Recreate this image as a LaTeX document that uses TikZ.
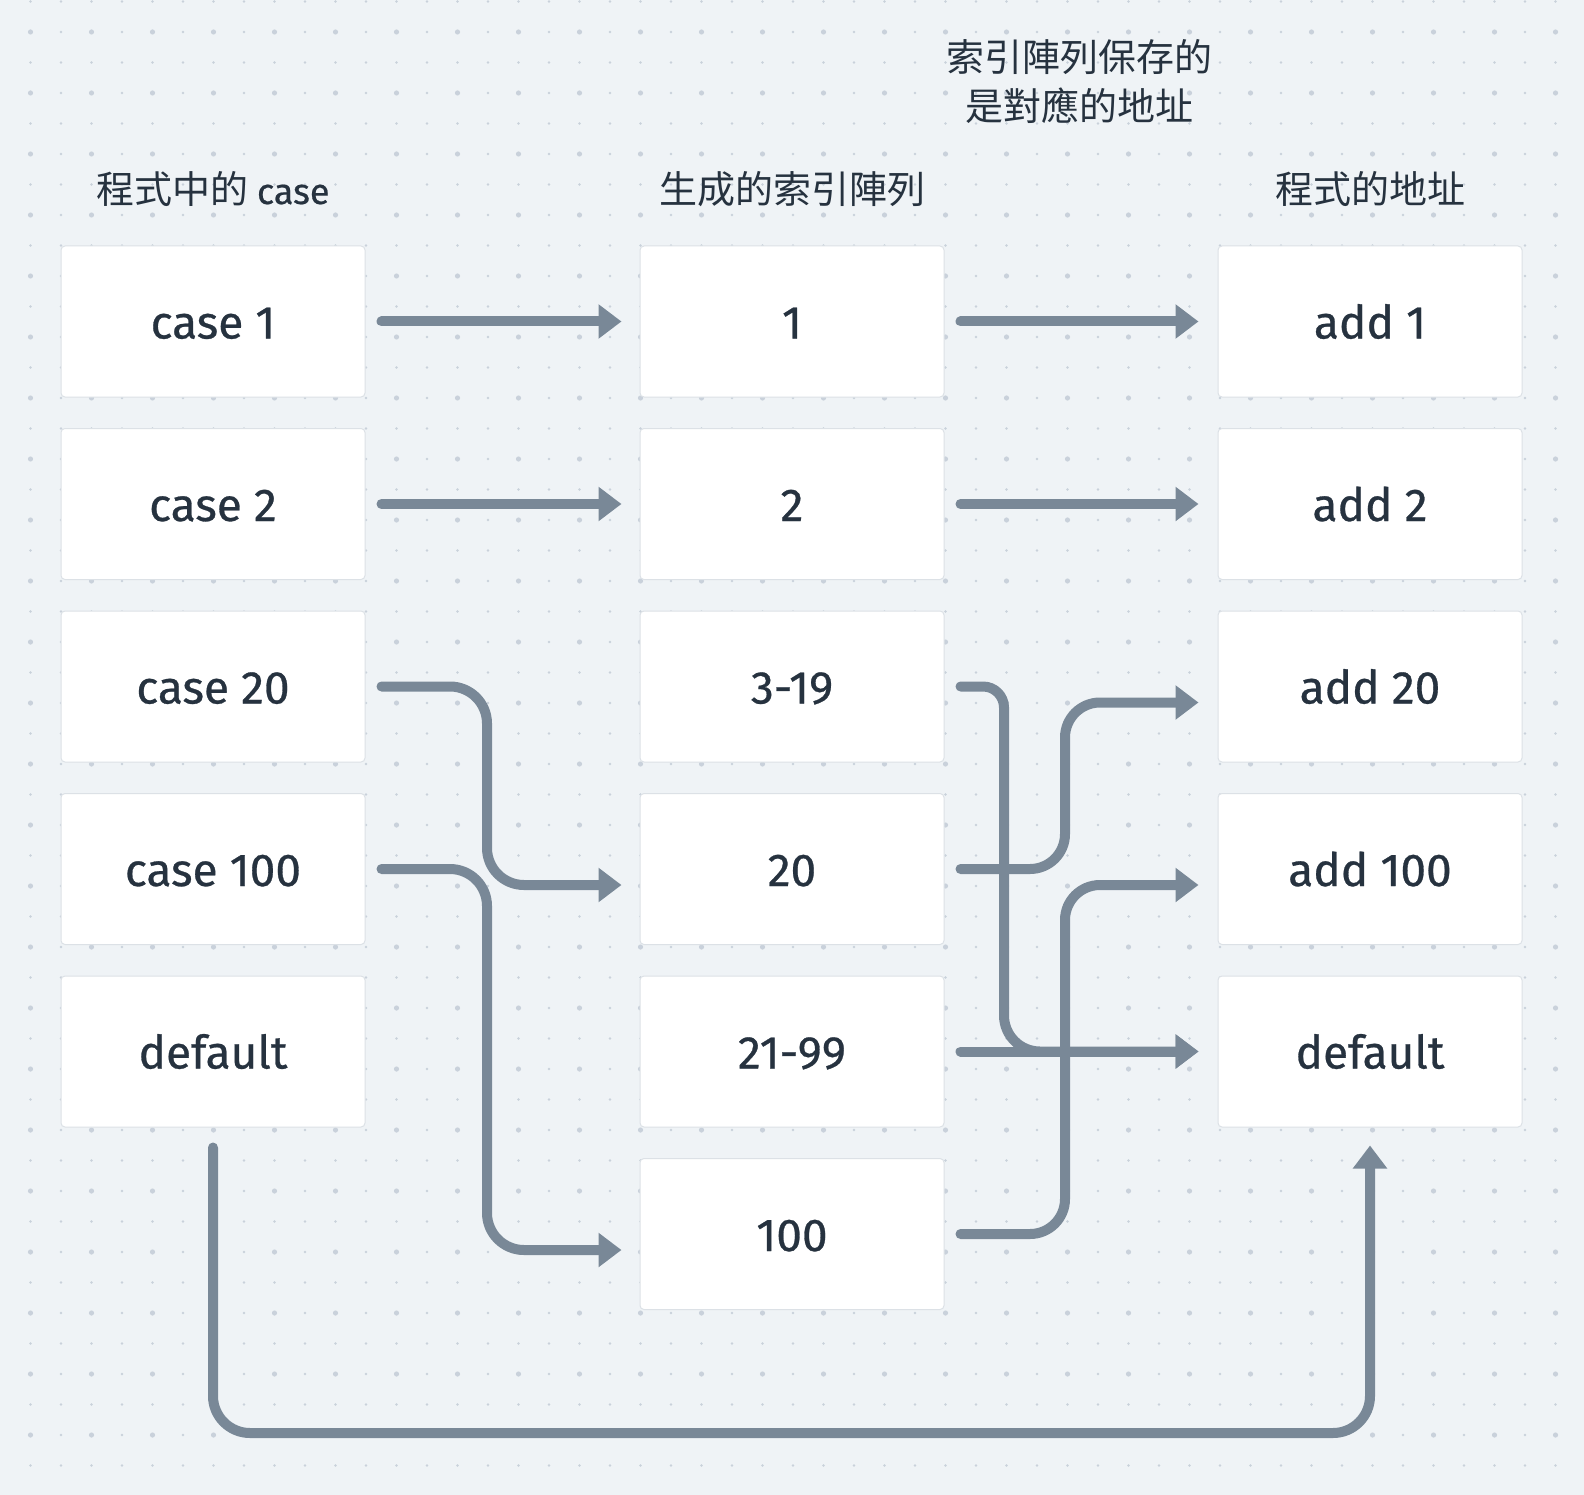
\documentclass[tikz,border=0pt]{standalone}
\usepackage{fontspec}
\setmainfont{Fira Sans}
\newfontfamily\boxfont{Fira Sans}[FakeBold=0.6]
\newfontfamily\cjk{Noto Sans CJK TC}
\usetikzlibrary{arrows.meta,calc}
\definecolor{bg}{HTML}{EFF3F6}
\definecolor{dotc}{HTML}{C9D1DB}
\definecolor{ink}{HTML}{26323F}
\definecolor{conn}{HTML}{798897}
\definecolor{edgec}{HTML}{DCE1E6}
\begin{document}
\begin{tikzpicture}[x=1pt,y=-1pt,
  box/.style={draw=edgec, line width=1pt, fill=white, rounded corners=4pt,
    minimum width=304pt, minimum height=151pt, inner sep=0pt, text=ink,
    text height=34pt, text depth=0pt, font=\boxfont\fontsize{46}{50}\selectfont},
  ttl/.style={text=ink, font=\cjk\fontsize{38}{48}\selectfont, inner sep=0pt, anchor=base},
  link/.style={draw=conn, line width=10pt, line cap=round, line join=round,
    -{Triangle[length=23pt,width=33pt]}},
]
\useasboundingbox (0,0) rectangle (1584,1495);
\fill[bg] (0,0) rectangle (1584,1495);
\foreach \i in {1,...,51}{
  \foreach \j in {0,...,48}{
    \fill[dotc] (30.5*\i,1.5+30.5*\j) circle[radius=1.4pt];
  }
}
\foreach \i in {1,3,...,51}{
  \foreach \j in {1,3,...,47}{
    \fill[dotc] (30.5*\i,1.5+30.5*\j) circle[radius=2.6pt];
  }
}
% titles
\node[ttl] (t1) at (213,204) {程式中的 {\boxfont\fontsize{36}{44}\selectfont case}};
\node[ttl] (t2) at (792,204) {生成的索引陣列};
\node[ttl] (t3) at (1370,204) {程式的地址};
\node[ttl] (t4) at (1079,72) {索引陣列保存的};
\node[ttl] (t5) at (1079,121) {是對應的地址};
% left column
\node[box] (L1) at (213,321.5) {case 1};
\node[box] (L2) at (213,504) {case 2};
\node[box] (L3) at (213,686.5) {case 20};
\node[box] (L4) at (213,869) {case 100};
\node[box] (L5) at (213,1051.5) {default};
% middle column
\node[box] (M1) at (792,321.5) {1};
\node[box] (M2) at (792,504) {2};
\node[box] (M3) at (792,686.5) {3-19};
\node[box] (M4) at (792,869) {20};
\node[box] (M5) at (792,1051.5) {21-99};
\node[box] (M6) at (792,1234) {100};
% right column
\node[box] (R1) at (1370,321.5) {add 1};
\node[box] (R2) at (1370,504) {add 2};
\node[box] (R3) at (1370,686.5) {add 20};
\node[box] (R4) at (1370,869) {add 100};
\node[box] (R5) at (1370,1051.5) {default};
% helper coordinates
\coordinate (lv) at (487,0);
\coordinate (rva) at (1004,0);
\coordinate (rvb) at (1065,0);
\coordinate (bot) at (0,1433);
\coordinate (M4in) at ([xshift=-18pt,yshift=-16pt]M4.west);
\coordinate (M6in) at ([xshift=-18pt,yshift=-16pt]M6.west);
\coordinate (R3in) at ([xshift=-19pt,yshift=-16pt]R3.west);
\coordinate (R4in) at ([xshift=-19pt,yshift=-16pt]R4.west);
\coordinate (R5in) at ([xshift=-19pt]R5.west);
\coordinate (L5out) at ([yshift=-20pt]L5.south);
\coordinate (R5btm) at ([yshift=-18pt]R5.south);
% straight links
\draw[link] ([xshift=16pt]L1.east) -- ([xshift=-18pt]M1.west);
\draw[link] ([xshift=16pt]L2.east) -- ([xshift=-18pt]M2.west);
\draw[link] ([xshift=16pt]M1.east) -- ([xshift=-19pt]R1.west);
\draw[link] ([xshift=16pt]M2.east) -- ([xshift=-19pt]R2.west);
% left bends
\draw[link, rounded corners=37pt] ([xshift=16pt]L3.east) -- (lv |- L3.east) -- (lv |- M4in) -- (M4in);
\draw[link, rounded corners=37pt] ([xshift=16pt]L4.east) -- (lv |- L4.east) -- (lv |- M6in) -- (M6in);
% right bends
\draw[link] ([xshift=16pt]M3.east) [rounded corners=21pt] -- (rva |- M3.east) [rounded corners=36pt] -- (rva |- R5in) [sharp corners] -- (R5in);
\draw[link] ([xshift=16pt]M5.east) -- (R5in);
\draw[link, rounded corners=35pt] ([xshift=16pt]M4.east) -- (rvb |- M4.east) -- (rvb |- R3in) -- (R3in);
\draw[link, rounded corners=35pt] ([xshift=16pt]M6.east) -- (rvb |- M6.east) -- (rvb |- R4in) -- (R4in);
% default loop
\draw[link, rounded corners=37pt] (L5out) -- (L5out |- bot) -- (R5btm |- bot) -- (R5btm);
\end{tikzpicture}
\end{document}
